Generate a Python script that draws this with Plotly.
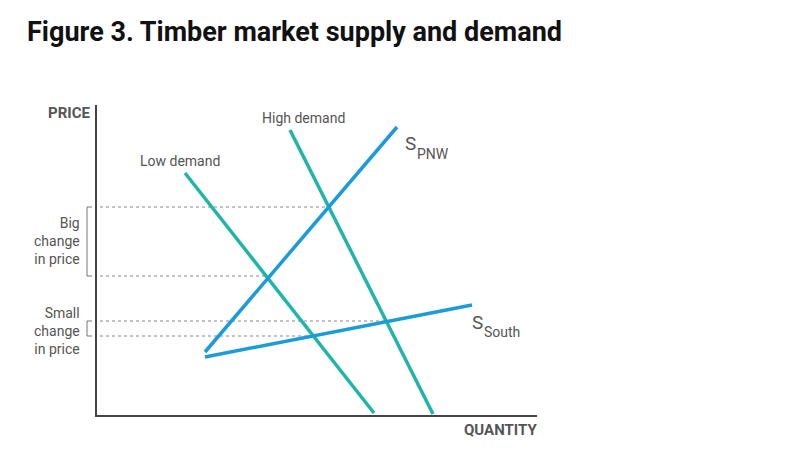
import plotly.graph_objects as go

# Data in chart (pixel-like) units: x right, y down
low_demand_x = [185, 374]; low_demand_y = [173, 413]
high_demand_x = [290, 433]; high_demand_y = [130, 414]
s_pnw_x = [205, 397]; s_pnw_y = [352, 127]
s_south_x = [205, 472]; s_south_y = [357, 305]
dash_levels = [207, 276, 321, 336]
dash_ends = [328, 266, 386, 313]

teal = "#1fb5aa"
blue = "#1b9bd7"
grey = "#555555"
fig = go.Figure()

fig.add_trace(go.Scatter(x=[96, 96, 537], y=[105, 416, 416], mode="lines",
                         line=dict(color="#444", width=2), hoverinfo="skip"))
for lv, xe in zip(dash_levels, dash_ends):
    fig.add_trace(go.Scatter(x=[100, xe], y=[lv, lv], mode="lines",
                             line=dict(color="#888", width=1, dash="dot"), hoverinfo="skip"))
for a, b in [(dash_levels[0], dash_levels[1]), (dash_levels[2], dash_levels[3])]:
    fig.add_trace(go.Scatter(x=[92, 87, 87, 92], y=[a, a, b, b], mode="lines",
                             line=dict(color="#777", width=1), hoverinfo="skip"))
for xs, ys, c in [(low_demand_x, low_demand_y, teal), (high_demand_x, high_demand_y, teal),
                  (s_pnw_x, s_pnw_y, blue), (s_south_x, s_south_y, blue)]:
    fig.add_trace(go.Scatter(x=xs, y=ys, mode="lines", line=dict(color=c, width=3.5), hoverinfo="skip"))

f = dict(family="Roboto, Arial", size=14, color=grey)
ann = [
    dict(x=25, y=32, text="<b>Figure 3. Timber market supply and demand</b>", xanchor="left",
         font=dict(family="Liberation Sans Narrow, Roboto, Arial", size=27, color="#111")),
    dict(x=92, y=113, text="<b>PRICE</b>", xanchor="right", font=dict(family="Roboto, Arial", size=15, color=grey)),
    dict(x=539, y=430, text="<b>QUANTITY</b>", xanchor="right", font=dict(family="Roboto, Arial", size=15, color=grey)),
    dict(x=303, y=118, text="High demand", font=f),
    dict(x=180, y=161, text="Low demand", font=f),
    dict(x=403, y=143, text="S", xanchor="left", font=dict(family="Roboto, Arial", size=19, color=grey)),
    dict(x=415, y=154, text="PNW", xanchor="left", font=f),
    dict(x=470, y=322, text="S", xanchor="left", font=dict(family="Roboto, Arial", size=19, color=grey)),
    dict(x=482, y=332, text="South", xanchor="left", font=f),
    dict(x=82, y=241, text="Big<br>change<br>in price", xanchor="right", align="right", font=f),
    dict(x=82, y=331, text="Small<br>change<br>in price", xanchor="right", align="right", font=f),
]
for a in ann:
    a.update(xref="x", yref="y", showarrow=False, yanchor="middle")
# page body has an 8px margin; map ranges so units equal page pixels
fig.update_layout(width=784, height=442, margin=dict(l=0, r=0, t=0, b=0),
                  plot_bgcolor="white", paper_bgcolor="white", showlegend=False,
                  annotations=ann,
                  xaxis=dict(range=[8, 792], visible=False, fixedrange=True),
                  yaxis=dict(range=[450, 8], visible=False, fixedrange=True))
fig.write_html("out.html")
